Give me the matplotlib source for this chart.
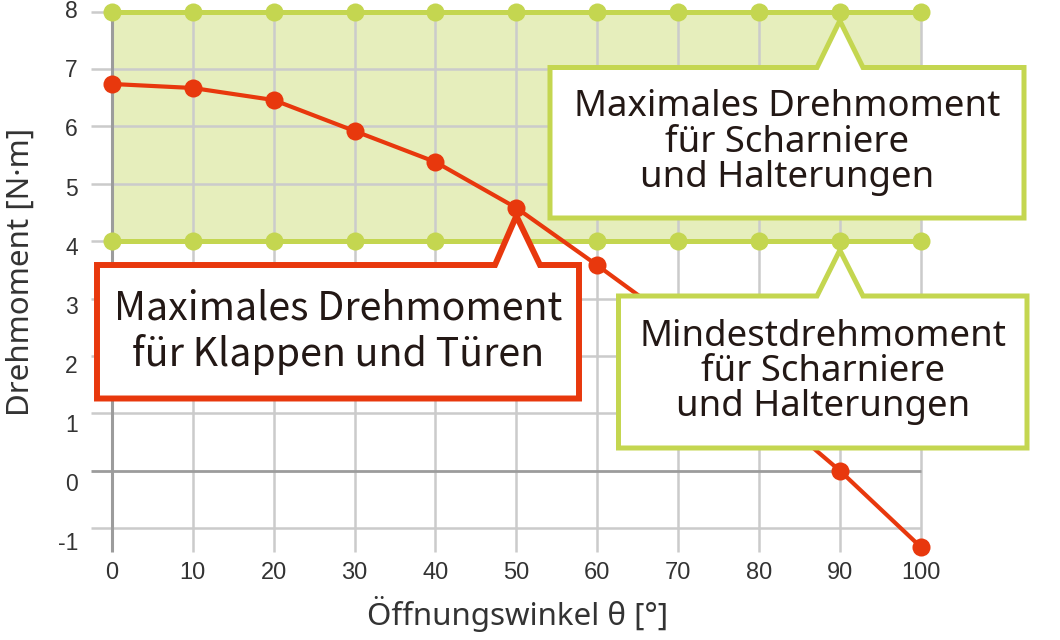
import matplotlib
matplotlib.use('Agg')
import matplotlib.pyplot as plt
from matplotlib.patches import Polygon
from matplotlib.transforms import IdentityTransform

# torque curve of the stay (N·m) over the opening angle (deg)
angle = [0, 10, 20, 30, 40, 50, 60, 70, 80, 90, 100]
torque = [6.74, 6.67, 6.46, 5.92, 5.38, 4.58, 3.58, 2.55, 1.2, 0.0, -1.33]

# admissible band for hinges and holders
band_low = 4
band_high = 8

x_ticks = [0, 10, 20, 30, 40, 50, 60, 70, 80, 90, 100]
y_ticks = [-1, 0, 1, 2, 3, 4, 5, 6, 7, 8]

x_title = 'Öffnungswinkel θ [°]'
y_title = 'Drehmoment [N·m]'
txt_max_door = 'Maximales Drehmoment\nfür Klappen und Türen'
txt_max_hinge = 'Maximales Drehmoment\nfür Scharniere\nund Halterungen'
txt_min_hinge = 'Mindestdrehmoment\nfür Scharniere\nund Halterungen'

red = '#E8380D'
green = '#C4D650'
green_fill = '#E6EEBC'
grid_c = '#CBCBCB'
axis_c = '#9C9C9C'
ink = '#231815'

W, H = 1060, 640
fig = plt.figure(figsize=(W / 100, H / 100), dpi=100)
fig.patch.set_facecolor('white')

# axes box in pixels: x 0..100 -> 112..920.7, y 8..-1 -> 11.7..528
x0, x1 = -3.0, 102.0
y0, y1 = -1.45, 8.2
sx = (920.7 - 112) / 100.0
sy = (528 - 11.7) / 9.0
left = 112 + x0 * sx
right = 112 + x1 * sx
top = 11.7 - (y1 - 8) * sy
bottom = 11.7 + (8 - y0) * sy
ax = fig.add_axes([left / W, 1 - bottom / H, (right - left) / W, (bottom - top) / H])
ax.set_xlim(x0, x1)
ax.set_ylim(y0, y1)
ax.axis('off')

# grid
ax.fill_between([0, 100], band_low, band_high, color=green_fill, lw=0, zorder=0.5)
ax.hlines([v for v in y_ticks if v != 0], -2.6, 100, color=grid_c, lw=1.8, zorder=1)
ax.vlines([v for v in x_ticks if v != 0], -1.42, 8, color=grid_c, lw=1.8, zorder=1)
ax.hlines([0], -2.6, 100, color=axis_c, lw=2.0, zorder=1.2)
ax.vlines([0], -1.42, 8, color=axis_c, lw=2.2, zorder=1.2)

# band limits
for lvl in (band_low, band_high):
    ax.plot(angle, [lvl] * len(angle), color=green, lw=3.6, marker='o', ms=13,
            mec='none', zorder=2, clip_on=False)

# torque curve
ax.plot(angle, torque, color=red, lw=3.0, marker='o', ms=13, mec='none',
        zorder=3, clip_on=False)

# tick labels
tick_font = ['Liberation Sans', 'DejaVu Sans']
for v in y_ticks:
    ax.annotate(str(v), xy=(0, v), xytext=(-34, -(8 - v) * 1.75),
                textcoords='offset pixels', ha='right', va='center',
                fontsize=16.5, color='#333333', family=tick_font)
for v in x_ticks:
    ax.annotate(str(v), xy=(v, -1), xytext=(0, -45),
                textcoords='offset pixels', ha='center', va='center',
                fontsize=17, color='#333333', family=tick_font)

fig.text(518 / W, 1 - 614 / H, x_title, ha='center', va='center',
         fontsize=22.5, color='#333333', family=['Noto Sans', 'DejaVu Sans'])
fig.text(21 / W, 1 - 272 / H, y_title, ha='center', va='center', rotation=90,
         fontsize=22.5, color='#333333', family=['Noto Sans', 'DejaVu Sans'])


def callout(box, base, tip, gap, color, lw, text, size, spacing, family):
    """white box with a pointer on its top edge; box/base in pixels from top-left"""
    l, t, r, b = box
    tx, ty = ax.transData.transform(tip)
    ty -= gap
    pts = [(l, H - t), (base[0], H - t), (tx, ty), (base[1], H - t),
           (r, H - t), (r, H - b), (l, H - b)]
    poly = Polygon(pts, closed=True, fc='white', ec=color, lw=lw,
                   joinstyle='miter', transform=IdentityTransform(), zorder=4)
    fig.add_artist(poly)
    fig.text((l + r) / 2 / W, 1 - (t + b) / 2 / H, text, ha='center', va='center',
             multialignment='center', fontsize=size, color=ink,
             linespacing=spacing, family=family, zorder=5)


callout((97, 265, 579, 398.5), (495, 540), (50, torque[5]), 8, red, 4.3,
        txt_max_door, 28.3, 1.15, ['Noto Sans CJK JP', 'Noto Sans'])
callout((550, 67.5, 1024, 218), (817, 863), (90, band_high), 9, green, 3.6,
        txt_max_hinge, 26.3, 0.98, ['Noto Sans', 'DejaVu Sans'])
callout((618.5, 296, 1027, 448), (817, 863), (90, band_low), 9, green, 3.6,
        txt_min_hinge, 26.3, 0.98, ['Noto Sans', 'DejaVu Sans'])

fig.savefig('out.png', dpi=100)
